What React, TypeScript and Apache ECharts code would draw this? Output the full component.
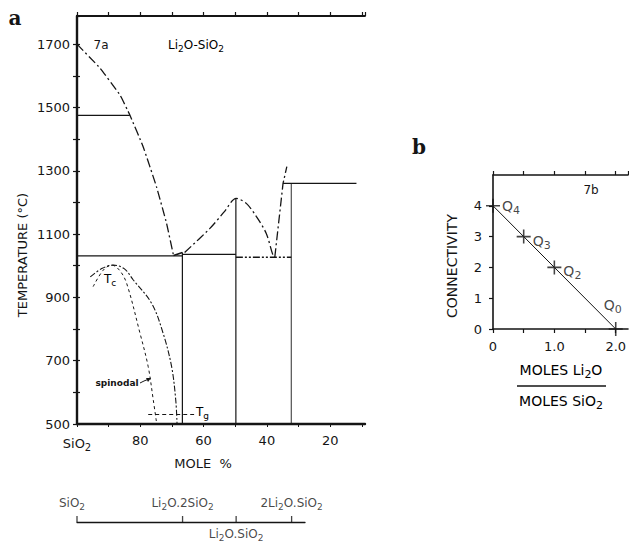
import React, { useEffect, useRef } from "react";
import * as echarts from "echarts";

const FONT = "DejaVu Sans";
const SERIF = "DejaVu Serif";
const INK = "#151515";

// ---------- Panel a : Li2O-SiO2 phase diagram (mole % SiO2, °C) ----------
const liquidusSilicaPct = [100, 92.7, 86.4, 83.3, 79.1, 74.9, 71.7, 69.5];
const liquidusSilicaT = [1700, 1624, 1539, 1476, 1376, 1250, 1134, 1032];
const liquidusDisilicatePct = [69.5, 66.7];
const liquidusDisilicateT = [1032, 1042];
const liquidusMetaPct = [66.0, 58.0, 53.5, 49.7, 46.5, 43.3, 40.2, 38.1, 37.5];
const liquidusMetaT = [1042, 1118, 1170, 1213, 1197, 1155, 1102, 1034, 1027];
const liquidusOrthoPct = [37.5, 34.9, 33.7];
const liquidusOrthoT = [1027, 1260, 1313];
const tcPct = [95.8, 92.0, 88.5, 85.0, 82.2, 76.4, 72.8, 70.1, 68.8, 68.4];
const tcT = [965, 992, 1002, 990, 955, 881, 787, 681, 576, 503];
const spinodalPct = [94.9, 91.7, 89.0, 86.5, 84.3, 80.1, 77.5, 75.9, 74.9];
const spinodalT = [934, 986, 1002, 985, 944, 787, 681, 576, 507];
const tgPct = [77.5, 63.0];
const tgT = 530;
const tridymitePct = [100, 83.3];
const tridymiteT = 1475;
const eutectic1Pct = [100, 66.7];
const eutectic1T = 1031;
const disilicateTopPct = [66.7, 49.8];
const disilicateTopT = 1036;
const eutectic2Pct = [49.8, 32.3];
const eutectic2T = 1027;
const orthoTopPct = [34.9, 11.7];
const orthoTopT = 1260;
const compoundPct = [66.7, 49.8, 32.3];
const compoundTopT = [1042, 1213, 1260];
const compoundNames = ["Li2O.2SiO2", "Li2O.SiO2", "2Li2O.SiO2"];
const tempMin = 500;
const tempMax = 1789;
const moleTickValues = [0, 20, 40, 60, 80]; // distance from SiO2 in mole %
const moleTickLabels = ["SiO2", "80", "60", "40", "20"];
const moleSpan = 91;

// ---------- Panel b : connectivity vs Li2O/SiO2 ----------
const ratio = [0, 0.5, 1, 2];
const connectivity = [4, 3, 2, 0];
const qNames = ["Q4", "Q3", "Q2", "Q0"];
const ratioTickValues = [0, 1, 2];
const ratioTickLabels = ["0", "1.0", "2.0"];

// ---------- composition scale under panel a ----------
const scalePct = [100, 66.7, 49.8, 32.3];
const scaleNames = ["SiO2", ...compoundNames];

const chem = (s: string) =>
  s
    .split(/(?<=[A-Za-z])(\d+)/)
    .map((p, i) => (p === "" ? "" : `{${i % 2 ? "s" : "n"}|${p}}`))
    .join("");

const rich = (fs: number) => ({
  n: { fontSize: fs, fontFamily: FONT, color: INK },
  s: { fontSize: Math.round(fs * 0.78), fontFamily: FONT, color: INK, padding: [Math.round(fs * 0.65), 0, 0, 0] },
});

const pt = (pcts: number[], temps: number[] | number) =>
  pcts.map((p, i) => [100 - p, Array.isArray(temps) ? temps[i] : temps]);

const lineA = (data: number[][], type: any, width = 1.2, smooth: number | boolean = false) => ({
  type: "line",
  xAxisIndex: 0,
  yAxisIndex: 0,
  data,
  symbol: "none",
  smooth,
  silent: true,
  lineStyle: { color: INK, width, type },
  z: 3,
});

const DASHDOT = [9, 3, 2, 3];
const DASHDOT2 = [7, 2, 2, 2, 2, 2];
const TCDASH = [6, 2, 2, 2];
const SPIN = [3, 3];

const plus = "path://M4,0h1v4h4v1h-4v4h-1v-4h-4v-1h4z";

function buildOption(): any {
  const axisBase = (w: number) => ({
    axisLine: { show: true, lineStyle: { color: INK, width: w } },
    splitLine: { show: false },
  });

  const series: any[] = [
    lineA(pt(liquidusSilicaPct, liquidusSilicaT), DASHDOT, 1.3, 0.1),
    lineA(pt(liquidusDisilicatePct, liquidusDisilicateT), "solid", 1.6),
    lineA(pt(liquidusMetaPct, liquidusMetaT), DASHDOT, 1.3, 0.3),
    lineA(pt(liquidusOrthoPct, liquidusOrthoT), DASHDOT, 1.3),
    lineA(pt(tcPct, tcT), TCDASH, 1.1, 0.35),
    lineA(pt(spinodalPct, spinodalT), SPIN, 1, 0.35),
    lineA(pt(tgPct, tgT), [4, 3], 1),
    lineA(pt(tridymitePct, tridymiteT), "solid", 1.2),
    lineA(pt(eutectic1Pct, eutectic1T), "solid", 1.3),
    lineA(pt(disilicateTopPct, disilicateTopT), "solid", 1.3),
    lineA(pt(eutectic2Pct, eutectic2T), DASHDOT2, 1.4),
    lineA(pt(orthoTopPct, orthoTopT), "solid", 1.3),
    ...compoundPct.map((p, i) => lineA(pt([p, p], [tempMin, compoundTopT[i]]), "solid", i === 2 ? 0.9 : 1.2)),
    // panel b
    {
      type: "line",
      xAxisIndex: 2,
      yAxisIndex: 2,
      data: ratio.map((r, i) => [r, connectivity[i]]),
      symbol: "none",
      silent: true,
      lineStyle: { color: INK, width: 1 },
    },
    {
      type: "scatter",
      xAxisIndex: 2,
      yAxisIndex: 2,
      symbol: plus,
      symbolSize: 14,
      itemStyle: { color: INK },
      silent: true,
      data: ratio.map((r, i) => ({
        value: [r, connectivity[i]],
        label: {
          show: true,
          formatter: chem(qNames[i]),
          rich: rich(14),
          position: i === 3 ? "top" : "right",
          distance: i === 3 ? 7 : 2,
          offset: i === 0 ? [0, 0] : i === 3 ? [-3, 0] : [0, 4],
        },
      })),
    },
    // composition scale
    {
      type: "scatter",
      xAxisIndex: 4,
      yAxisIndex: 3,
      symbol: "rect",
      symbolSize: [1.3, 6],
      symbolOffset: [0, -3],
      itemStyle: { color: INK },
      silent: true,
      data: scalePct.map((p, i) => ({
        value: [100 - p, 0],
        label: {
          show: true,
          formatter: chem(scaleNames[i]),
          rich: rich(12),
          position: i === 2 ? "bottom" : "top",
          distance: i === 2 ? 3 : 5,
          offset: i === 0 ? [-5, 0] : [0, 0],
        },
      })),
    },
  ];

  return {
    animation: false,
    backgroundColor: "#ffffff",
    textStyle: { fontFamily: FONT, color: INK },
    grid: [
      { left: 77, top: 16, width: 288, height: 408, containLabel: false, outerBoundsMode: "none" },
      { left: 493, top: 175, width: 135, height: 154, containLabel: false, outerBoundsMode: "none" },
      { left: 77, top: 521, width: 228, height: 1, containLabel: false, outerBoundsMode: "none" },
    ],
    xAxis: [
      {
        gridIndex: 0,
        type: "value",
        position: "bottom",
        min: 0,
        max: moleSpan,
        interval: 10,
        ...axisBase(2.4),
        axisTick: { show: true, inside: false, length: 3, lineStyle: { color: INK, width: 1 } },
        axisLabel: {
          show: true,
          margin: 10,
          fontSize: 13,
          fontFamily: FONT,
          color: INK,
          showMaxLabel: false,
          rich: rich(13),
          formatter: (v: number) => {
            const k = moleTickValues.indexOf(v);
            return k < 0 ? "" : chem(moleTickLabels[k]);
          },
        },
      },
      {
        gridIndex: 0,
        type: "value",
        position: "top",
        min: 0,
        max: moleSpan,
        interval: 10,
        ...axisBase(1.8),
        axisTick: { show: true, inside: false, length: 4, lineStyle: { color: INK, width: 1.2 } },
        axisLabel: { show: false },
      },
      {
        gridIndex: 1,
        type: "value",
        position: "bottom",
        min: 0,
        max: 2.2,
        interval: 0.5,
        ...axisBase(1.6),
        axisTick: { show: true, inside: false, length: 4, lineStyle: { color: INK, width: 1.2 } },
        axisLabel: {
          show: true,
          margin: 11,
          fontSize: 13,
          fontFamily: FONT,
          color: INK,
          showMaxLabel: false,
          formatter: (v: number) => {
            const k = ratioTickValues.indexOf(v);
            return k < 0 ? "" : ratioTickLabels[k];
          },
        },
      },
      {
        gridIndex: 1,
        type: "value",
        position: "top",
        min: 0,
        max: 2.2,
        interval: 0.5,
        ...axisBase(1.6),
        axisTick: { show: true, inside: false, length: 4, lineStyle: { color: INK, width: 1.2 } },
        axisLabel: { show: false },
      },
      {
        gridIndex: 2,
        type: "value",
        position: "bottom",
        min: 0,
        max: 228 / 3.17,
        ...axisBase(1.3),
        axisTick: { show: false },
        axisLabel: { show: false },
      },
    ],
    yAxis: [
      {
        gridIndex: 0,
        type: "value",
        position: "left",
        min: tempMin,
        max: tempMax,
        interval: 100,
        ...axisBase(2.4),
        axisTick: { show: true, inside: false, length: 4, lineStyle: { color: INK, width: 1.2 } },
        axisLabel: {
          show: true,
          margin: 7,
          fontSize: 13,
          fontFamily: FONT,
          color: INK,
          showMaxLabel: false,
          formatter: (v: number) => ((v - tempMin) % 200 === 0 ? String(v) : ""),
        },
      },
      {
        gridIndex: 0,
        type: "value",
        position: "right",
        min: tempMin,
        max: tempMax,
        interval: 100,
        ...axisBase(2),
        axisTick: { show: true, inside: false, length: 3, lineStyle: { color: INK, width: 1.2 } },
        axisLabel: { show: false },
      },
      {
        gridIndex: 1,
        type: "value",
        position: "left",
        min: 0,
        max: 5,
        interval: 1,
        ...axisBase(1.6),
        axisTick: { show: true, inside: false, length: 4, lineStyle: { color: INK, width: 1.2 } },
        axisLabel: {
          show: true,
          margin: 11,
          fontSize: 13,
          fontFamily: FONT,
          color: INK,
          showMaxLabel: false,
          formatter: (v: number) => (v < 5 ? String(v) : ""),
        },
      },
      {
        gridIndex: 2,
        type: "value",
        min: 0,
        max: 1,
        show: false,
      },
    ],
    series,
    graphic: [
      { type: "text", x: 15, y: 18, style: { text: "a", font: `bold 20px ${SERIF}`, fill: INK, align: "center", verticalAlign: "middle" } },
      { type: "text", x: 419, y: 147, style: { text: "b", font: `bold 20px ${SERIF}`, fill: INK, align: "center", verticalAlign: "middle" } },
      { type: "text", x: 101, y: 45, style: { text: "7a", font: `12px ${FONT}`, fill: INK, align: "center", verticalAlign: "middle" } },
      { type: "text", x: 168, y: 45, style: { text: chem("Li2O-SiO2"), rich: rich(12), align: "left", verticalAlign: "middle" } },
      { type: "text", x: 591, y: 190, style: { text: "7b", font: `12px ${FONT}`, fill: INK, align: "center", verticalAlign: "middle" } },
      {
        type: "text",
        x: 104,
        y: 279,
        style: { text: "{n|T}{s|c}", rich: rich(12), align: "left", verticalAlign: "middle" },
      },
      { type: "text", x: 117, y: 383, style: { text: "spinodal", font: `bold 9px ${FONT}`, fill: INK, align: "center", verticalAlign: "middle" } },
      { type: "polyline", shape: { points: [[140, 383], [144, 381], [149, 379]] }, style: { stroke: INK, lineWidth: 1, fill: "none" } },
      { type: "polygon", shape: { points: [[151, 378], [146, 378], [148, 382]] }, style: { fill: INK } },
      {
        type: "text",
        x: 196,
        y: 412,
        style: { text: "{n|T}{s|g}", rich: rich(12), align: "left", verticalAlign: "middle" },
      },
      {
        type: "text",
        x: 22,
        y: 255,
        rotation: Math.PI / 2,
        style: { text: "TEMPERATURE (°C)", font: `13px ${FONT}`, fill: INK, align: "center", verticalAlign: "middle" },
      },
      { type: "text", x: 203, y: 463, style: { text: "MOLE  %", font: `13px ${FONT}`, fill: INK, align: "center", verticalAlign: "middle" } },
      {
        type: "text",
        x: 452,
        y: 266,
        rotation: Math.PI / 2,
        style: { text: "CONNECTIVITY", font: `14px ${FONT}`, fill: INK, align: "center", verticalAlign: "middle" },
      },
      { type: "text", x: 561, y: 370, style: { text: chem("MOLES Li2O"), rich: rich(14), align: "center", verticalAlign: "middle" } },
      { type: "line", shape: { x1: 517, y1: 386, x2: 606, y2: 386 }, style: { stroke: INK, lineWidth: 1.5 } },
      { type: "text", x: 561, y: 401, style: { text: chem("MOLES SiO2"), rich: rich(14), align: "center", verticalAlign: "middle" } },
    ],
  };
}

export default function App() {
  const ref = useRef<HTMLDivElement>(null);
  useEffect(() => {
    if (!ref.current) return;
    const chart = echarts.init(ref.current, null, { renderer: "svg" });
    chart.setOption(buildOption());
    return () => chart.dispose();
  }, []);
  return (
    <div
      ref={ref}
      style={{ position: "fixed", left: 0, top: 0, width: 629, height: 544, background: "#fff" }}
    />
  );
}
